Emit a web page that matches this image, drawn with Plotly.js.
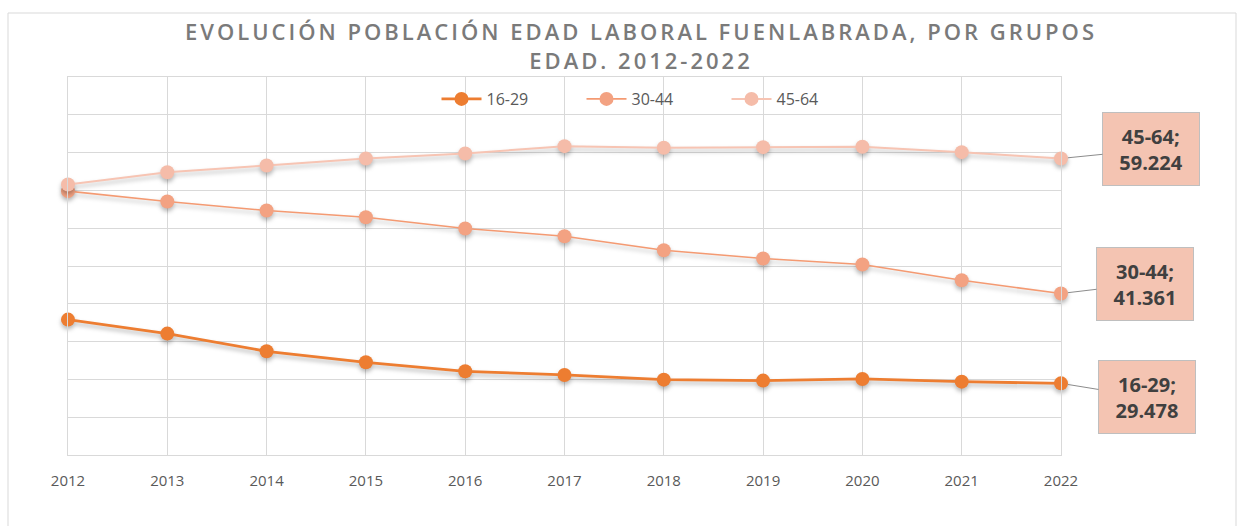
<!DOCTYPE html>
<html><head><meta charset="utf-8">
<script src="https://cdn.plot.ly/plotly-3.0.1.min.js"></script>
<style>
html,body{margin:0;padding:0;background:#fff;}
#chart{width:1239px;height:526px;}
.gtitle{letter-spacing:3px;}
.scatterlayer .trace{filter:drop-shadow(0px 3px 2px rgba(0,0,0,0.28));}
</style></head><body><div id="chart"></div>
<script>
const years = [2012, 2013, 2014, 2015, 2016, 2017, 2018, 2019, 2020, 2021, 2022];
const seriesNames = ['16-29', '30-44', '45-64'];
const values1629 = [37910, 36060, 33720, 32260, 31070, 30590, 29970, 29840, 30060, 29700, 29478];
const values3044 = [54900, 53530, 52340, 51450, 49960, 48940, 47090, 45990, 45190, 43110, 41361];
const values4564 = [55780, 57410, 58300, 59220, 59890, 60850, 60640, 60720, 60770, 60060, 59224];
const titleText = 'EVOLUCIÓN POBLACIÓN EDAD LABORAL FUENLABRADA, POR GRUPOS<br>EDAD. 2012-2022';

const seriesValues = [values1629, values3044, values4564];
const lineColors = ['#ED7D31', '#F49A72', '#F7C4B3'];
const markerColors = ['#ED7D31', '#F3A282', '#F5BCA9'];
const lineWidths = [2.8, 1.6, 2];
const labelOffsets = [[86, 14], [84, -10], [90, -9]];

function fmt(v) {
  return String(Math.round(v)).replace(/\B(?=(\d{3})+(?!\d))/g, '.');
}

const FONT = 'Open Sans, Noto Sans, sans-serif';

const traces = seriesNames.map((name, i) => ({
  type: 'scatter', mode: 'lines+markers', name: name,
  x: years, y: seriesValues[i],
  line: {color: lineColors[i], width: lineWidths[i]},
  marker: {color: markerColors[i], size: 14},
  cliponaxis: false,
  hoverinfo: 'x+y+name'
}));

const annotations = seriesNames.map((name, i) => {
  const vals = seriesValues[i];
  const last = vals[vals.length - 1];
  return {
    x: years[years.length - 1], y: last, xref: 'x', yref: 'y',
    text: '<b>' + name + ';<br>' + fmt(last) + '</b>',
    showarrow: true, arrowhead: 0, arrowwidth: 1, arrowcolor: '#8c8c8c',
    ax: labelOffsets[i][0], ay: labelOffsets[i][1], standoff: 7,
    width: 94, height: 70, borderpad: 1, borderwidth: 1,
    bgcolor: '#F4C4B2', bordercolor: '#BFBFBF',
    font: {family: FONT, size: 20, color: '#404040'}
  };
});

// plot area geometry in pixels
const W = 1239, H = 526, L = 68, R = 178, T = 77, B = 71;
const pw = W - L - R, ph = H - T - B;
const px = v => (v - L) / pw;
const py = v => (H - B - v) / ph;

const layout = {
  width: W, height: H,
  margin: {l: L, r: R, t: T, b: B, pad: 0},
  paper_bgcolor: '#ffffff', plot_bgcolor: '#ffffff',
  title: {
    text: titleText,
    font: {family: FONT, size: 22, color: '#7a7a7a', weight: 600},
    xref: 'container', x: 641 / W, xanchor: 'center',
    yref: 'container', y: 1 - 40 / H, yanchor: 'top'
  },
  showlegend: true,
  legend: {
    orientation: 'h', x: px(654), xanchor: 'center', y: py(99), yanchor: 'middle',
    bgcolor: 'rgba(0,0,0,0)', font: {family: FONT, size: 16, color: '#595959'},
    itemwidth: 40,
    entrywidth: 90, entrywidthmode: 'pixels'
  },
  xaxis: {
    type: 'linear', range: [years[0], years[years.length - 1]],
    tickvals: years, ticktext: years.map(String),
    showgrid: true, gridcolor: '#d9d9d9', gridwidth: 1,
    showline: true, linecolor: '#d9d9d9', mirror: true, zeroline: false,
    ticks: '', ticklabelstandoff: 12,
    tickfont: {family: FONT, size: 15, color: '#595959'}
  },
  yaxis: {
    range: [20000, 70000], tick0: 0, dtick: 5000,
    showticklabels: false, showgrid: true, gridcolor: '#d9d9d9', gridwidth: 1,
    showline: true, linecolor: '#d9d9d9', mirror: true, zeroline: false, ticks: ''
  },
  annotations: annotations,
  shapes: [{
    type: 'rect', xref: 'paper', yref: 'paper',
    x0: px(8), x1: px(1236), y0: py(540), y1: py(13),
    line: {color: '#d9d9d9', width: 1}, fillcolor: 'rgba(0,0,0,0)', layer: 'below'
  }],
  hovermode: 'closest'
};

Plotly.newPlot('chart', traces, layout, {displayModeBar: false, responsive: false});
</script></body></html>
